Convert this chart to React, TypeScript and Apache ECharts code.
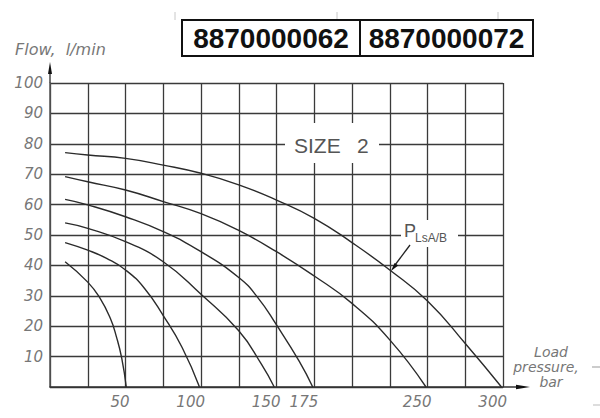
import React, { useEffect, useRef } from 'react';
import * as echarts from 'echarts';

// Axis ticks / labels
const xTickLabels = [50, 100, 150, 175, 250, 300];
const yTickLabels = [10, 20, 30, 40, 50, 60, 70, 80, 90, 100];

// Flow (l/min) vs load pressure (bar), one curve per setting
const curve50 = [[10, 41.2], [25, 34.5], [33, 29.3], [40, 22.5], [44, 16.5], [47.5, 9.5], [50.5, 0]];
const curve100 = [[10, 47.5], [25, 45], [37.5, 42.3], [50, 38.5], [62.5, 32.5], [75, 23.5], [87.5, 13], [99, 0]];
const curve150 = [[10, 54], [25, 52.2], [50, 47.8], [75, 41.2], [100, 30.5], [125, 18.5], [140, 7.5], [148.5, 0]];
const curve175 = [[10, 61.7], [25, 59.9], [50, 56], [75, 51.1], [100, 44.5], [125, 36], [137.5, 29.5], [150, 20.4], [165, 8.5], [174, 0]];
const curve250 = [[10, 69.2], [25, 67.5], [50, 64.8], [75, 61], [100, 57], [125, 51.5], [150, 44.5], [175, 36.5], [200, 27.5], [225, 15.5], [249, 0]];
const curve300 = [[10, 77.1], [25, 76.3], [50, 75.2], [75, 73], [100, 70.3], [125, 66.5], [150, 61.5], [175, 55.5], [200, 47.5], [225, 38.5], [250, 28.3], [275, 14.3], [299, 0]];

const curves = [curve50, curve100, curve150, curve175, curve250, curve300];
const partNumbers = ['8870000062', '8870000072'];
const sizeLabel = ['SIZE', '2'];
const xTitleLines = ['Load', 'pressure,', 'bar'];

export default function App() {
  const ref = useRef<HTMLDivElement>(null);

  useEffect(() => {
    if (!ref.current) return;
    const chart = echarts.init(ref.current, null, { renderer: 'svg' });
    const italicFont = "'DejaVu Sans', sans-serif";
    const plainFont = "'Liberation Sans', Arial, sans-serif";
    const gridCol = '#3a3a3a';
    const labelCol = '#777';

    const txt = (text: string, x: number, y: number, extra: any) => ({
      type: 'text', x, y, z: 101,
      style: {
        text, align: 'left', verticalAlign: 'middle', textAlign: 'left', textVerticalAlign: 'middle',
        ...extra,
      },
    });

    chart.setOption({
      animation: false,
      backgroundColor: '#ffffff',
      grid: [
        { left: 50, right: 97, top: 83, bottom: 31 },
        { left: 54, right: 93, top: 83, bottom: 31 },
      ],
      xAxis: [
        {
          type: 'value', gridIndex: 0, min: 0, max: 300, interval: 25,
          axisLine: { show: true, lineStyle: { color: '#333', width: 1.5 } },
          axisTick: { show: false },
          axisLabel: { show: false },
          splitLine: { show: true, lineStyle: { color: gridCol, width: 1.3 } },
        },
        {
          type: 'value', gridIndex: 1, min: 0, max: 300, interval: 25,
          axisLine: { show: false }, axisTick: { show: false }, splitLine: { show: false },
          axisLabel: {
            show: true, align: 'right', margin: 7, color: labelCol, fontSize: 15,
            fontStyle: 'italic', fontFamily: italicFont,
            formatter: (v: number) => (xTickLabels.includes(v) ? String(v) : ''),
          },
        },
      ],
      yAxis: [
        {
          type: 'value', gridIndex: 0, min: 0, max: 100, interval: 10,
          axisLine: { show: true, lineStyle: { color: '#555', width: 1.5 } },
          axisTick: { show: false },
          axisLabel: {
            show: true, margin: 7, color: labelCol, fontSize: 15,
            fontStyle: 'italic', fontFamily: italicFont,
            formatter: (v: number) => (yTickLabels.includes(v) ? String(v) : ''),
          },
          splitLine: { show: true, lineStyle: { color: gridCol, width: 1.3 } },
        },
        { type: 'value', gridIndex: 1, min: 0, max: 100, show: false },
      ],
      series: curves.map((d) => ({
        type: 'line',
        xAxisIndex: 0,
        yAxisIndex: 0,
        data: d,
        smooth: 0.5,
        symbol: 'none',
        lineStyle: { color: '#2b2b2b', width: 1.4 },
        z: 5,
      })),
      graphic: [
        // small marks above the box
        ...[175, 337, 498].map((x) => ({
          type: 'line', shape: { x1: x, y1: 12, x2: x, y2: 20 },
          style: { stroke: '#c8c8c8', lineWidth: 1 }, z: 90,
        })),
        // part number box
        { type: 'rect', shape: { x: 182, y: 20, width: 351, height: 36 }, style: { fill: '#fff', stroke: '#111', lineWidth: 2 }, z: 100 },
        { type: 'line', shape: { x1: 360, y1: 20, x2: 360, y2: 56 }, style: { stroke: '#111', lineWidth: 2 }, z: 101 },
        {
          type: 'text', x: 271, y: 38.5, z: 101,
          style: { text: partNumbers[0], fontSize: 28, fontWeight: 'bold', fontFamily: plainFont, fill: '#111', align: 'center', verticalAlign: 'middle', textAlign: 'center', textVerticalAlign: 'middle' },
        },
        {
          type: 'text', x: 446.5, y: 38.5, z: 101,
          style: { text: partNumbers[1], fontSize: 28, fontWeight: 'bold', fontFamily: plainFont, fill: '#111', align: 'center', verticalAlign: 'middle', textAlign: 'center', textVerticalAlign: 'middle' },
        },
        // y axis title
        txt('Flow,  l/min', 15, 49, { fontSize: 16, fontStyle: 'italic', fontFamily: italicFont, fill: labelCol }),
        // y axis arrow
        { type: 'line', shape: { x1: 50, y1: 83, x2: 50, y2: 68 }, style: { stroke: '#444', lineWidth: 1.5 }, z: 100 },
        { type: 'polygon', shape: { points: [[50, 62], [48, 74], [52, 74]] }, style: { fill: '#111' }, z: 100 },
        // x axis arrow
        { type: 'line', shape: { x1: 503, y1: 387, x2: 520, y2: 387 }, style: { stroke: '#333', lineWidth: 1.5 }, z: 100 },
        { type: 'polygon', shape: { points: [[530, 387], [516, 384.8], [516, 389.2]] }, style: { fill: '#111' }, z: 100 },
        // x axis title
        ...xTitleLines.map((t, i) => ({
          type: 'text', x: [551, 546, 551][i], y: 352 + i * 15, z: 100,
          style: { text: t, fontSize: 14, lineHeight: 14, fontStyle: 'italic', fontFamily: italicFont, fill: labelCol, align: 'center', verticalAlign: 'middle', textAlign: 'center', textVerticalAlign: 'middle' },
        })),
        { type: 'line', shape: { x1: 592, y1: 367, x2: 600, y2: 367 }, style: { stroke: '#999', lineWidth: 1 }, z: 100 },
        { type: 'line', shape: { x1: 593, y1: 405, x2: 600, y2: 405 }, style: { stroke: '#bbb', lineWidth: 1 }, z: 100 },
        // SIZE 2 label
        { type: 'rect', shape: { x: 285, y: 123, width: 94, height: 40 }, style: { fill: '#fff' }, z: 100 },
        txt(sizeLabel[0], 294, 145, { fontSize: 21, fontFamily: plainFont, fill: '#555' }),
        txt(sizeLabel[1], 357, 145, { fontSize: 21, fontFamily: plainFont, fill: '#555' }),
        // P LsA/B label
        { type: 'rect', shape: { x: 401, y: 220, width: 57, height: 27 }, style: { fill: '#fff' }, z: 100 },
        txt('P', 404, 231, { fontSize: 18, fontFamily: plainFont, fill: '#555' }),
        txt('LsA/B', 415, 238, { fontSize: 12, fontFamily: plainFont, fill: '#555' }),
        { type: 'line', shape: { x1: 410, y1: 245, x2: 395, y2: 265 }, style: { stroke: '#222', lineWidth: 1.3 }, z: 101 },
        { type: 'polygon', shape: { points: [[391, 271], [398.2, 265.6], [394.6, 262.9]] }, style: { fill: '#111' }, z: 101 },
      ],
    });

    return () => {
      chart.dispose();
    };
  }, []);

  return (
    <div
      ref={ref}
      style={{ position: 'fixed', left: 0, top: 0, width: 600, height: 418, background: '#fff' }}
    />
  );
}
